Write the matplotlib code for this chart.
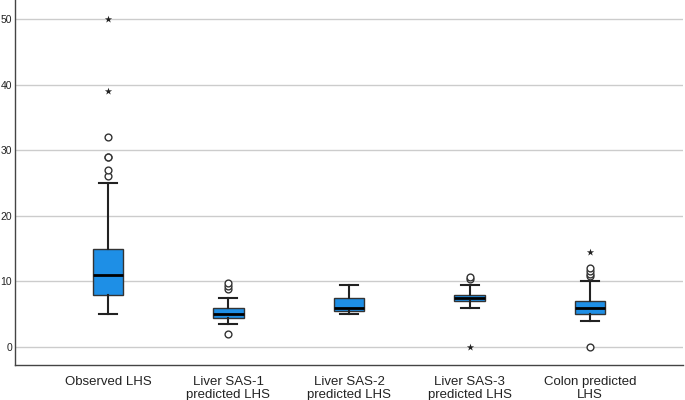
import matplotlib
matplotlib.use("Agg")
import matplotlib.pyplot as plt

categories = ["Observed LHS", "Liver SAS-1\npredicted LHS", "Liver SAS-2\npredicted LHS",
              "Liver SAS-3\npredicted LHS", "Colon predicted\nLHS"]
whislo = [5, 3.5, 5.0, 6.0, 4.0]
q1 = [8, 4.5, 5.5, 7.0, 5.0]
med = [11, 5.0, 6.0, 7.5, 6.0]
q3 = [15, 6.0, 7.5, 8.0, 7.0]
whishi = [25, 7.5, 9.5, 9.5, 10.0]
circle_outliers = [[26, 27, 29, 29, 32], [2.0, 8.8, 9.3, 9.7], [], [10.3, 10.7], [0, 10.8, 11.2, 11.6, 12.1]]
star_outliers = [[39, 50], [], [], [0], [14.5]]
yticks = [0, 10, 20, 30, 40, 50]

plt.rcParams['font.family'] = ['Liberation Sans', 'DejaVu Sans']
fig = plt.figure(figsize=(6.85, 4.0), dpi=100)
ax = fig.add_axes([0.022, 0.0875, 0.975, 0.9125])

stats = []
for i in range(len(categories)):
    stats.append(dict(med=med[i], q1=q1[i], q3=q3[i], whislo=whislo[i], whishi=whishi[i], fliers=[]))
pos = list(range(1, len(categories) + 1))
ax.bxp(stats, positions=pos, widths=0.25, patch_artist=True, showfliers=False,
       boxprops=dict(facecolor='#1E8FE6', edgecolor='#333333', linewidth=1.0),
       medianprops=dict(color='black', linewidth=2.0),
       whiskerprops=dict(color='#222222', linewidth=1.5),
       capprops=dict(color='#222222', linewidth=1.5), capwidths=0.15, zorder=3)
for i, p in enumerate(pos):
    if circle_outliers[i]:
        ax.scatter([p] * len(circle_outliers[i]), circle_outliers[i], s=24, facecolors='white',
                   edgecolors='#333333', linewidths=1.0, zorder=4)
    if star_outliers[i]:
        ax.scatter([p] * len(star_outliers[i]), star_outliers[i], s=30, marker='*',
                   color='#222222', linewidths=0, zorder=4)

ax.set_xlim(0.23, 5.77)
ax.set_ylim(-2.74, 52.9)
ax.set_yticks(yticks)
ax.set_xticks(pos)
ax.set_xticklabels(categories, fontsize=9.5, color='#222222', linespacing=1.15)
ax.tick_params(axis='y', length=0, labelsize=7.5, pad=2, colors='#222222')
ax.tick_params(axis='x', length=0, pad=8)
ax.grid(axis='y', color='#cccccc', linewidth=1.0, zorder=0)
ax.set_axisbelow(True)
for s in ['top', 'right']:
    ax.spines[s].set_visible(False)
for s in ['left', 'bottom']:
    ax.spines[s].set_color('#444444')
    ax.spines[s].set_linewidth(1.0)
fig.savefig("out.png", dpi=100)
